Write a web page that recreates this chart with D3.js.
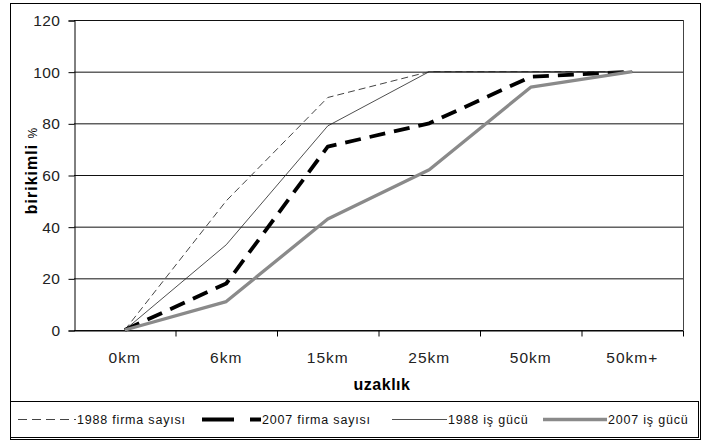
<!DOCTYPE html>
<html>
<head>
<meta charset="utf-8">
<script src="https://cdn.jsdelivr.net/npm/d3@7"></script>
<style>
  body { margin: 0; background: #fff; }
  text { font-family: "Liberation Sans", Arial, sans-serif; }
</style>
</head>
<body>
<script>
//categories and series (cumulative %)
var categories = ["0km", "6km", "15km", "25km", "50km", "50km+"];
var firma1988 = [0, 50, 90, 100, 100, 100];
var firma2007 = [0, 18, 71, 80, 98, 100];
var isgucu1988 = [0, 33, 79, 100, 100, 100];
var isgucu2007 = [0, 11, 43, 62, 94, 100];
var yTicks = [0, 20, 40, 60, 80, 100, 120];

var series = [
    {name: "1988 firma sayısı", values: firma1988, color: "#444", width: 1, dash: "7,4", legDash: "9,5"},
    {name: "2007 firma sayısı", values: firma2007, color: "#000", width: 3.8, dash: "16,9", legDash: "32,16"},
    {name: "1988 iş gücü", values: isgucu1988, color: "#222", width: 0.8, dash: null, legDash: null},
    {name: "2007 iş gücü", values: isgucu2007, color: "#8a8a8a", width: 3.3, dash: null, legDash: null}
];

var width = 703, height = 445;

var svg = d3.select("body")
    .append("svg")
    .attr("width", width)
    .attr("height", height);

//chart area border
svg.append("rect")
    .attr("x", 10.5).attr("y", 3.5)
    .attr("width", 690).attr("height", 436)
    .attr("fill", "none")
    .attr("stroke", "#000")
    .attr("stroke-width", 1);

//plot area
var plotLeft = 74, plotRight = 683, plotTop = 20, plotBottom = 330;

var x = d3.scaleBand()
    .domain(categories)
    .range([plotLeft, plotRight]);

var y = d3.scaleLinear()
    .domain([0, 120])
    .range([plotBottom, plotTop]);

//gridlines
svg.append("g")
    .selectAll("line")
    .data(yTicks)
    .enter()
    .append("line")
    .attr("x1", plotLeft).attr("x2", plotRight)
    .attr("y1", function(d){ return y(d) + 0.5; })
    .attr("y2", function(d){ return y(d) + 0.5; })
    .attr("stroke", "#111")
    .attr("stroke-width", 1);

//right plot border
svg.append("line")
    .attr("x1", plotRight + 0.5).attr("x2", plotRight + 0.5)
    .attr("y1", plotTop).attr("y2", plotBottom)
    .attr("stroke", "#444");

//y axis
var yAxis = d3.axisLeft(y)
    .tickValues(yTicks)
    .tickSize(6)
    .tickPadding(8);

svg.append("g")
    .attr("transform", "translate(" + (plotLeft + 0.5) + ",0.5)")
    .call(yAxis)
    .call(function(g){
        g.selectAll("text").attr("font-size", 15.5).attr("fill", "#222")
            .attr("letter-spacing", 0.5)
            .attr("font-family", "Liberation Sans, Arial, sans-serif");
        g.selectAll("line, path").attr("stroke", "#000");
    });

//x axis: ticks between categories
var xAxis = d3.axisBottom(x).tickSize(0).tickPadding(21);
var gx = svg.append("g")
    .attr("transform", "translate(0," + (plotBottom + 0.5) + ")")
    .call(xAxis);
gx.selectAll("text").attr("font-size", 15.5).attr("fill", "#222")
    .attr("letter-spacing", 1)
    .attr("font-family", "Liberation Sans, Arial, sans-serif");
gx.select("path").attr("stroke", "#000");

gx.selectAll(".sep")
    .data(categories)
    .enter()
    .append("line")
    .attr("class", "sep")
    .attr("x1", function(d){ return x(d) + x.bandwidth() + 0.5; })
    .attr("x2", function(d){ return x(d) + x.bandwidth() + 0.5; })
    .attr("y1", 0).attr("y2", 6)
    .attr("stroke", "#000");

//axis titles
svg.append("text")
    .attr("x", 382).attr("y", 390)
    .attr("text-anchor", "middle")
    .attr("font-size", 16)
    .attr("letter-spacing", 0.5)
    .attr("font-weight", "bold")
    .text("uzaklık");

var yt = svg.append("text")
    .attr("transform", "translate(37,171) rotate(-90)")
    .attr("text-anchor", "middle")
    .attr("font-size", 16);
yt.append("tspan").attr("font-weight", "bold").attr("letter-spacing", 1).text("birikimli ");
yt.append("tspan").attr("font-size", 12).text("%");

//lines
var line = d3.line()
    .x(function(d, i){ return x(categories[i]) + x.bandwidth() / 2; })
    .y(function(d){ return y(d); });

svg.append("g")
    .selectAll("path")
    .data(series)
    .enter()
    .append("path")
    .attr("d", function(d){ return line(d.values); })
    .attr("fill", "none")
    .attr("stroke", function(d){ return d.color; })
    .attr("stroke-width", function(d){ return d.width; })
    .attr("stroke-dasharray", function(d){ return d.dash; })
    .attr("stroke-linejoin", "round");

//legend
svg.append("rect")
    .attr("x", 10.5).attr("y", 401.5)
    .attr("width", 688).attr("height", 36)
    .attr("fill", "none")
    .attr("stroke", "#000");

var legendPos = [
    {x1: 18, x2: 76},
    {x1: 202, x2: 261},
    {x1: 392, x2: 447},
    {x1: 543, x2: 607}
];

var legend = svg.append("g")
    .selectAll("g")
    .data(series)
    .enter()
    .append("g");

legend.append("line")
    .attr("x1", function(d, i){ return legendPos[i].x1; })
    .attr("x2", function(d, i){ return legendPos[i].x2; })
    .attr("y1", 419.5).attr("y2", 419.5)
    .attr("stroke", function(d){ return d.color; })
    .attr("stroke-width", function(d){ return d.width; })
    .attr("stroke-dasharray", function(d){ return d.legDash; });

legend.append("text")
    .attr("x", function(d, i){ return legendPos[i].x2 + 1; })
    .attr("y", 424)
    .attr("font-size", 12.5)
    .attr("letter-spacing", 0.8)
    .attr("fill", "#111")
    .text(function(d){ return d.name; });
</script>
</body>
</html>
